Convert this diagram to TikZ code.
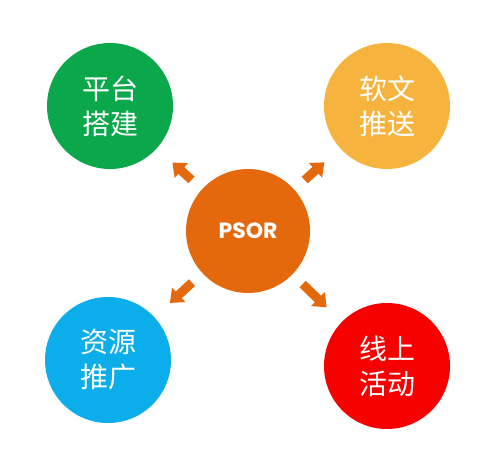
\documentclass[tikz,border=0pt]{standalone}
\usepackage{fontspec}
\newfontfamily\cjk{Noto Sans CJK SC}
\newfontfamily\psorfont{Poppins}
\usetikzlibrary{arrows.meta}

\definecolor{topgreen}{HTML}{0AA84B}
\definecolor{topyellow}{HTML}{F6B43F}
\definecolor{lowblue}{HTML}{0BADEB}
\definecolor{lowred}{HTML}{F70000}
\definecolor{psororange}{HTML}{E3690C}

\begin{document}
\begin{tikzpicture}[x=1pt,y=-1pt,
    bubble/.style={circle,inner sep=0pt,minimum size=126pt,text=white,align=center,
        font=\cjk\fontsize{28}{35}\selectfont},
    outarrow/.style={psororange,line width=9pt,-{Triangle[width=19pt,length=12pt]},
        shorten <=14pt,shorten >=21pt}]
    \useasboundingbox (0,0) rectangle (486,457);
    \node [bubble,fill=psororange,minimum size=124pt,font=\psorfont\bfseries\fontsize{22}{26}\selectfont] (psor) at (248,231) {PSOR};
    \node [bubble,fill=topgreen] (platform) at (110,106) {平台\\搭建};
    \node [bubble,fill=topyellow] (article) at (387,106) {软文\\推送};
    \node [bubble,fill=lowblue] (resource) at (108,360) {资源\\推广};
    \node [bubble,fill=lowred] (online) at (387,366) {线上\\活动};
    \draw [outarrow] (psor) -- (platform);
    \draw [outarrow] (psor) -- (article);
    \draw [outarrow] (psor) -- (resource);
    \draw [outarrow] (psor) -- (online);
\end{tikzpicture}
\end{document}
